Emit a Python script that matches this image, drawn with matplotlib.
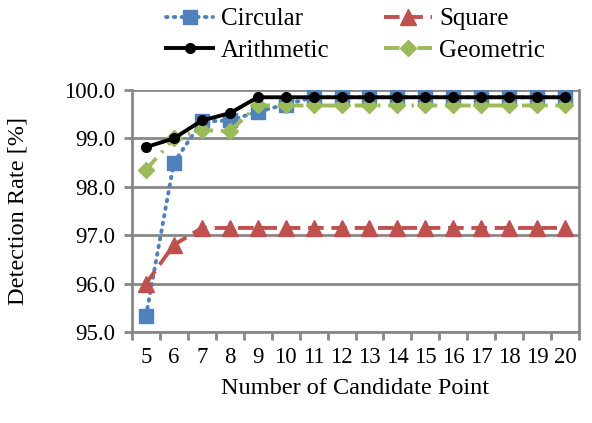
import numpy as np
import matplotlib.pyplot as plt

plt.rcParams['font.family'] = ['Liberation Serif', 'DejaVu Serif']

# candidate point counts and detection rates [%]
points = [str(n) for n in range(5, 21)]
circular = [95.33, 98.5, 99.35, 99.37, 99.55, 99.7] + [99.85] * 10
square = [96.0, 96.8, 97.15] + [97.15] * 13
arithmetic = [98.82, 99.0, 99.37, 99.52, 99.85] + [99.85] * 11
geometric = [98.35, 99.0, 99.17, 99.15, 99.68] + [99.68] * 11

fig = plt.figure(figsize=(5.92, 4.23), dpi=100)
ax = fig.add_axes([132 / 592, 1 - 332 / 423, 447 / 592, 242 / 423])

x = np.arange(len(points))
l1, = ax.plot(x, circular, color='#4F81BD', linestyle=(0, (0.4, 1.6)), linewidth=2.8,
              dash_capstyle='round', marker='s', markersize=10, label='Circular', zorder=3)
l2, = ax.plot(x, square, color='#C0504D', linestyle=(0, (4, 2)), linewidth=2.8,
              marker='^', markersize=11, label='Square', zorder=3)
l3, = ax.plot(x, arithmetic, color='black', linestyle='-', linewidth=2.8,
              marker='o', markersize=7, label='Arithmetic', zorder=4)
l4, = ax.plot(x, geometric, color='#9BBB59', linestyle=(0, (4, 2, 0.6, 2)), linewidth=2.8,
              marker='D', markersize=8.5, label='Geometric', zorder=3)

ax.set_xlim(-0.5, len(points) - 0.5)
ax.set_ylim(95.0, 100.0)
yt = np.arange(95.0, 100.01, 1.0)
ax.set_yticks(yt)
ax.set_yticklabels(['%.1f' % v for v in yt], fontsize=16.5)
ax.set_xticks(x)
ax.set_xticklabels(points, fontsize=16.5)
ax.set_xticks(np.arange(-0.5, len(points)), minor=True)
ax.tick_params(axis='x', which='major', length=0, pad=11)
ax.tick_params(axis='x', which='minor', length=6, width=2, color='#888888')
ax.tick_params(axis='y', length=6, width=2, color='#888888', pad=6)

ax.grid(axis='y', color='#888888', linewidth=2)
ax.set_axisbelow(True)
for s in ax.spines.values():
    s.set_color('#888888')
    s.set_linewidth(2)
ax.spines['top'].set_visible(False)

ax.set_xlabel('Number of Candidate Point', fontsize=17.5, labelpad=7)
ax.set_ylabel('Detection Rate [%]', fontsize=17.5, labelpad=26)

# row-major order: Circular, Square / Arithmetic, Geometric
ax.legend([l1, l3, l2, l4], ['Circular', 'Arithmetic', 'Square', 'Geometric'],
          loc='lower center', bbox_to_anchor=(0.5, 1.035), ncol=2, frameon=False,
          fontsize=18, handlelength=1.9, handletextpad=0.3, columnspacing=2.2,
          labelspacing=0.35, borderaxespad=0.4)

fig.savefig('out.png', dpi=100)
